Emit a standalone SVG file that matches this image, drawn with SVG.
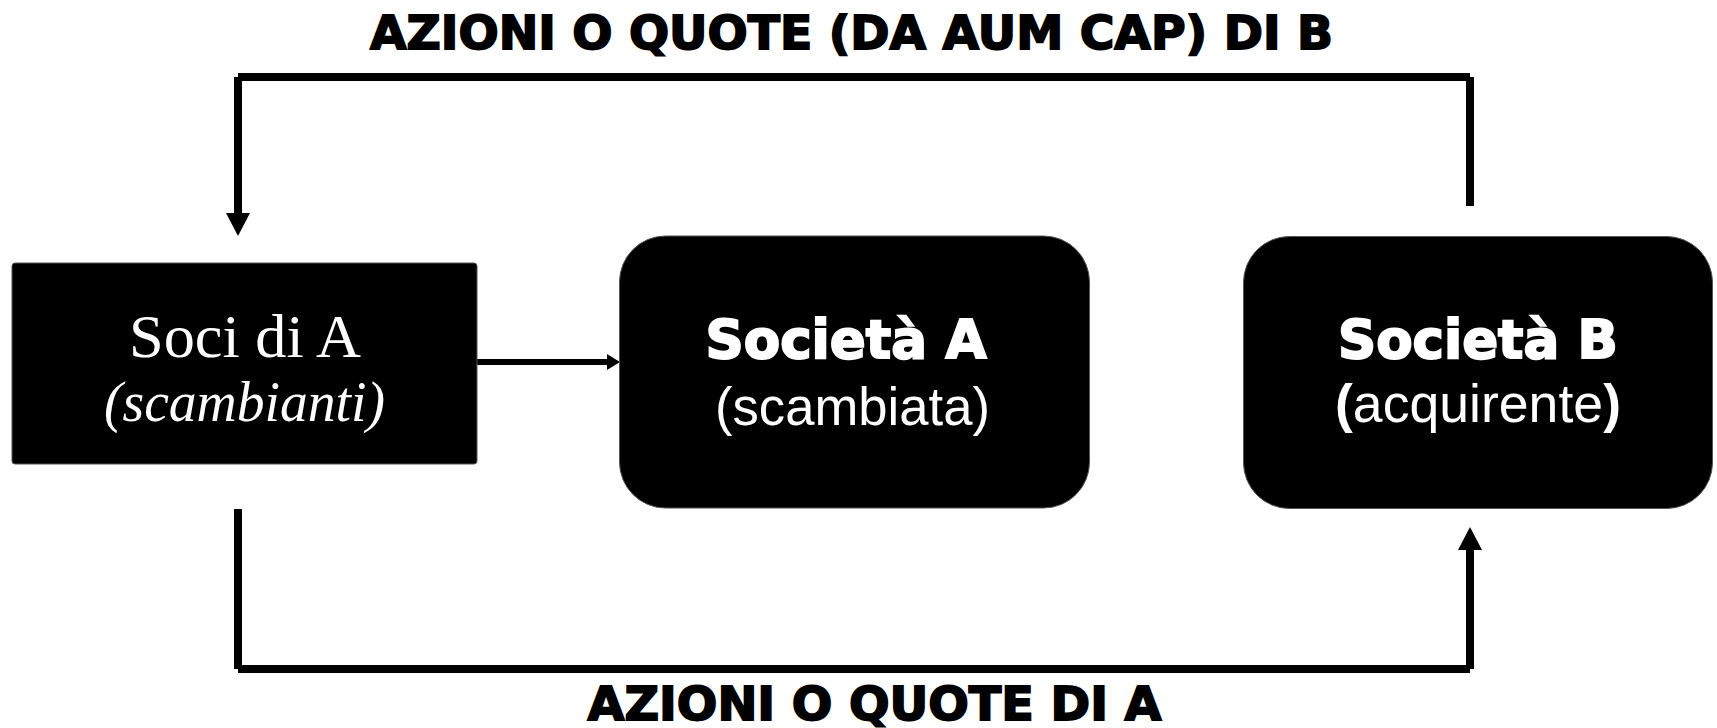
<svg xmlns="http://www.w3.org/2000/svg" width="1717" height="728" viewBox="0 0 1717 728">
  <style>
    .title { font-family: "DejaVu Sans", "Liberation Sans", sans-serif; font-weight: bold; font-size: 47px; fill: #000; stroke: #000; stroke-width: 1.8; }
    .heavy { font-family: "DejaVu Sans", "Liberation Sans", sans-serif; font-weight: bold; font-size: 53px; fill: #fff; stroke: #fff; stroke-width: 2; }
    .sub { font-family: "Liberation Sans", Arial, sans-serif; font-size: 53px; fill: #fff; }
    .serif { font-family: "Liberation Serif", "Times New Roman", serif; fill: #fff; }
    .box { fill: #000; stroke: #555; stroke-width: 1; }
    .conn { stroke: #000; fill: none; stroke-linecap: butt; }
  </style>
  <defs>
    <marker id="headBig" viewBox="0 0 23 24" refX="0" refY="12" markerWidth="23" markerHeight="24" markerUnits="userSpaceOnUse" orient="auto">
      <path d="M0,0 L23,12 L0,24 Z" fill="#000"/>
    </marker>
    <marker id="headSmall" viewBox="0 0 13 16" refX="0" refY="8" markerWidth="13" markerHeight="16" markerUnits="userSpaceOnUse" orient="auto">
      <path d="M0,0 L13,8 L0,16 Z" fill="#000"/>
    </marker>
  </defs>

  <g id="connectors">
    <!-- top: B shares to Soci di A -->
    <line class="conn" x1="1470" y1="206" x2="1470" y2="77" stroke-width="8"/>
    <line class="conn" x1="1470" y1="77" x2="238" y2="77" stroke-width="8"/>
    <line class="conn" x1="238" y1="77" x2="238" y2="213" stroke-width="8" marker-end="url(#headBig)"/>
    <!-- bottom: A shares to B -->
    <line class="conn" x1="238" y1="509" x2="238" y2="669" stroke-width="8"/>
    <line class="conn" x1="238" y1="669" x2="1470" y2="669" stroke-width="8"/>
    <line class="conn" x1="1470" y1="669" x2="1470" y2="550" stroke-width="8" marker-end="url(#headBig)"/>
    <!-- middle -->
    <line class="conn" x1="477" y1="362" x2="607" y2="362" stroke-width="6" marker-end="url(#headSmall)"/>
  </g>

  <g id="label-top">
    <text class="title" x="851.5" y="49" text-anchor="middle" textLength="963" lengthAdjust="spacingAndGlyphs">AZIONI O QUOTE (DA AUM CAP) DI B</text>
  </g>
  <g id="label-bottom">
    <text class="title" x="874.5" y="720" font-size="45" text-anchor="middle" textLength="574" lengthAdjust="spacingAndGlyphs">AZIONI O QUOTE DI A</text>
  </g>

  <g id="node-soci">
    <rect class="box" x="12" y="263" width="465" height="201" rx="3"/>
    <text class="serif" x="245" y="357" font-size="62" text-anchor="middle" textLength="232" lengthAdjust="spacingAndGlyphs">Soci di A</text>
    <text class="serif" x="244.5" y="421" font-size="56" font-style="italic" text-anchor="middle" textLength="281" lengthAdjust="spacingAndGlyphs">(scambianti)</text>
  </g>

  <g id="node-societa-a">
    <rect class="box" x="619.5" y="236" width="470" height="272" rx="46"/>
    <text class="heavy" x="846" y="358" text-anchor="middle" textLength="281" lengthAdjust="spacingAndGlyphs">Società A</text>
    <text class="sub" x="852.5" y="425" text-anchor="middle" textLength="275" lengthAdjust="spacingAndGlyphs">(scambiata)</text>
  </g>

  <g id="node-societa-b">
    <rect class="box" x="1243.5" y="236.5" width="469" height="272" rx="46"/>
    <text class="heavy" x="1478" y="358" text-anchor="middle" textLength="280" lengthAdjust="spacingAndGlyphs">Società B</text>
    <text class="sub" x="1478" y="422" text-anchor="middle" textLength="286" lengthAdjust="spacingAndGlyphs"><tspan font-weight="bold">(</tspan>acquirente<tspan font-weight="bold">)</tspan></text>
  </g>
</svg>
